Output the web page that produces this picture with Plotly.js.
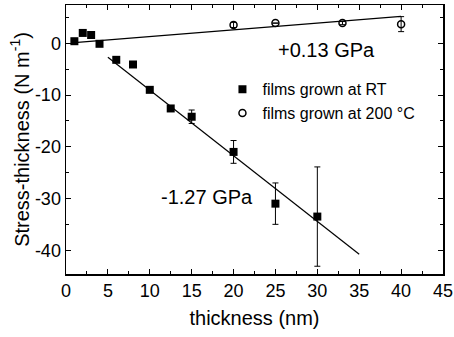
<!DOCTYPE html>
<html>
<head>
<meta charset="utf-8">
<script src="https://cdn.plot.ly/plotly-3.0.1.min.js"></script>
<style>html,body{margin:0;padding:0;background:#fff;}#chart{width:454px;height:337px;}</style>
</head>
<body>
<div id="chart"></div>
<script>
// RT-grown films
const rtThickness = [1, 2, 3, 4, 6, 8, 10, 12.5, 15, 20, 25, 30];
const rtStress    = [0.4, 2.0, 1.6, -0.1, -3.2, -4.1, -9.0, -12.6, -14.2, -21.0, -31.0, -33.5];
const rtError     = [0, 0, 0, 0, 0, 0, 0, 0, 1.3, 2.2, 4.0, 9.6];
// 200 °C-grown films
const hotThickness = [20, 25, 33, 40];
const hotStress    = [3.55, 3.9, 3.9, 3.7];
const hotError     = [0.5, 0, 0.3, 1.45];
// Linear fits
const fitHotX = [1, 40];
const fitHotY = [0.13, 5.2];
const fitRtX  = [5, 35];
const fitRtY  = [-2.69, -40.79];
const xTickVals = [0, 5, 10, 15, 20, 25, 30, 35, 40, 45];
const xTickText = ['0', '5', '10', '15', '20', '25', '30', '35', '40', '45'];
const yTickVals = [-40, -30, -20, -10, 0];
const yTickText = ['-40', '-30', '-20', '-10', '0'];

const font = 'Liberation Sans, Arial, sans-serif';
const traces = [
  {x: fitHotX, y: fitHotY, mode: 'lines', line: {color: '#000', width: 1.2}, showlegend: false, hoverinfo: 'skip'},
  {x: fitRtX, y: fitRtY, mode: 'lines', line: {color: '#000', width: 1.2}, showlegend: false, hoverinfo: 'skip'},
  {x: rtThickness, y: rtStress, mode: 'markers', name: 'films grown at RT',
   marker: {symbol: 'square', size: 8, color: '#000'},
   error_y: {type: 'data', array: rtError, visible: true, color: '#000', thickness: 1, width: 3}},
  {x: hotThickness, y: hotStress, mode: 'markers', name: 'films grown at 200 °C',
   marker: {symbol: 'circle-open', size: 7, color: '#000', line: {width: 1.5, color: '#000'}},
   error_y: {type: 'data', array: hotError, visible: true, color: '#000', thickness: 1, width: 3}}
];

const axisCommon = {
  showline: true, linecolor: '#000', linewidth: 1.5, mirror: 'allticks',
  ticks: 'inside', ticklen: 5, tickwidth: 1, tickcolor: '#000',
  showgrid: false, zeroline: false,
  tickfont: {family: font, size: 18, color: '#000'}
};

const layout = {
  width: 454, height: 337,
  margin: {l: 66, r: 11, t: 5, b: 63},
  paper_bgcolor: '#fff', plot_bgcolor: '#fff',
  font: {family: font, color: '#000'},
  xaxis: Object.assign({}, axisCommon, {
    range: [0, 45], tickvals: xTickVals, ticktext: xTickText,
    minor: {dtick: 2.5, ticks: 'inside', ticklen: 3, tickcolor: '#000', showgrid: false},
    title: {text: 'thickness (nm)', font: {family: font, size: 20, color: '#000'}, standoff: 11}
  }),
  yaxis: Object.assign({}, axisCommon, {
    range: [-44.6, 7.4], tickvals: yTickVals, ticktext: yTickText,
    minor: {dtick: 5, ticks: 'inside', ticklen: 3, tickcolor: '#000', showgrid: false},
    title: {text: 'Stress-thickness (N m<sup>-1</sup>)', font: {family: font, size: 20, color: '#000'}, standoff: 0}
  }),
  legend: {x: 0.415, y: 0.75, xanchor: 'left', yanchor: 'top', bgcolor: 'rgba(0,0,0,0)',
           font: {family: font, size: 16, color: '#000'}, tracegroupgap: 0},
  annotations: [
    {x: 31.1, y: -1.3, xref: 'x', yref: 'y', text: '+0.13 GPa', showarrow: false,
     font: {family: font, size: 20, color: '#000'}},
    {x: 16.8, y: -29.7, xref: 'x', yref: 'y', text: '-1.27 GPa', showarrow: false,
     font: {family: font, size: 20, color: '#000'}}
  ]
};

Plotly.newPlot('chart', traces, layout, {displayModeBar: false, staticPlot: true});
</script>
</body>
</html>
